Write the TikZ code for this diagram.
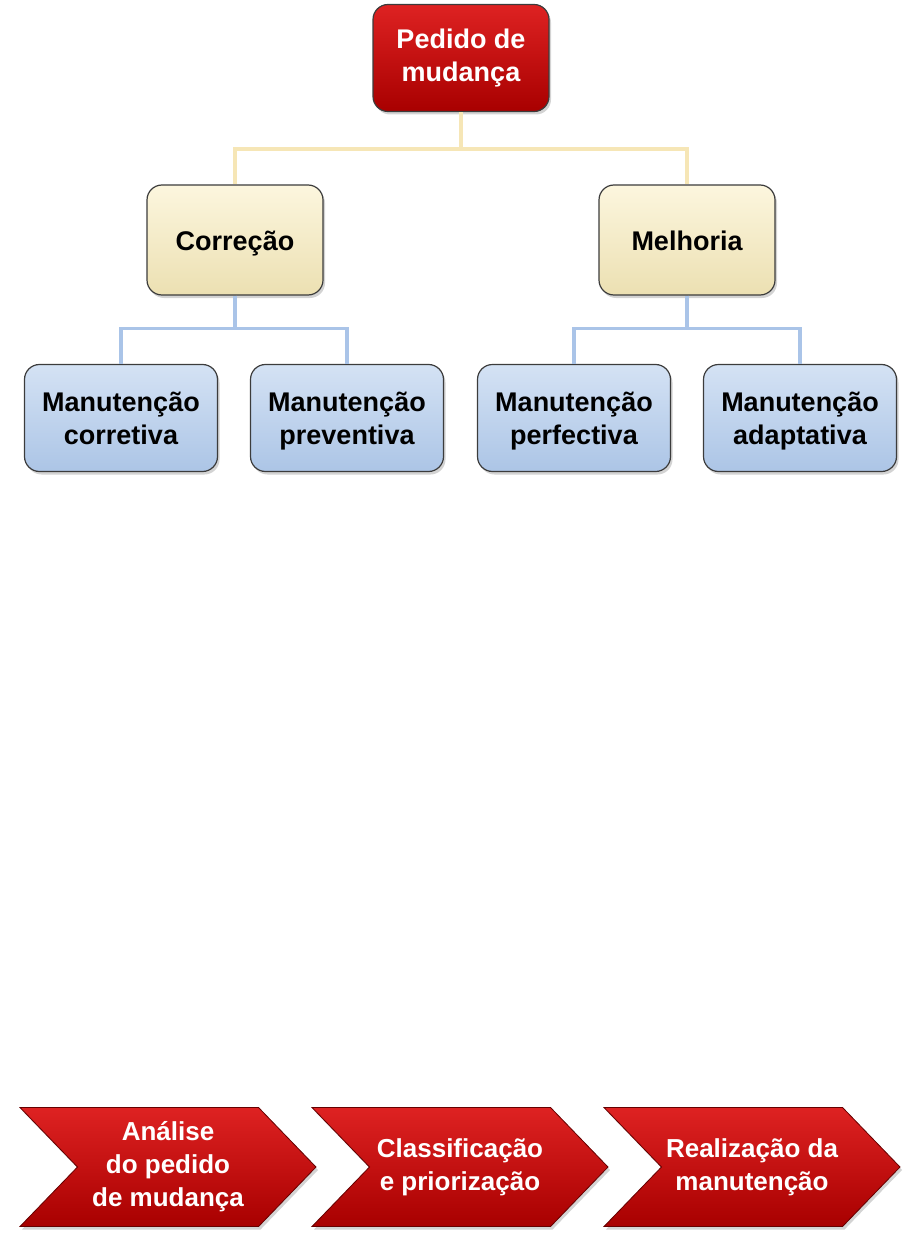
\documentclass[tikz,border=0pt]{standalone}
\usepackage{fontspec}
\setmainfont{Liberation Sans}
\usepackage{xcolor}
\usetikzlibrary{positioning,shapes.symbols,shadows}
\definecolor{MudRedTop}{RGB}{222,34,34}
\definecolor{MudRedBot}{RGB}{168,0,0}
\definecolor{MudBeigeTop}{RGB}{252,246,222}
\definecolor{MudBeigeBot}{RGB}{236,224,178}
\definecolor{MudBeigeLine}{RGB}{246,230,182}
\definecolor{MudBlueTop}{RGB}{212,226,244}
\definecolor{MudBlueBot}{RGB}{172,197,230}
\definecolor{MudBlueLine}{RGB}{170,196,232}
\definecolor{MudEdge}{RGB}{60,60,60}

\begin{document}
\begin{tikzpicture}[
    x=1pt, y=-1pt,
    box/.style={
        rectangle,
        rounded corners=15pt,
        draw=MudEdge,
        line width=1.2pt,
        minimum width=176pt,
        minimum height=107pt,
        align=center,
        font=\fontsize{27}{33}\selectfont\bfseries,
        drop shadow={shadow xshift=2pt,shadow yshift=-3pt,opacity=0.35}
    },
    redbox/.style={
        box,
        top color=MudRedTop,
        bottom color=MudRedBot,
        text=white
    },
    beigebox/.style={
        box,
        minimum height=110pt,
        text height=25pt,
        text depth=3pt,
        top color=MudBeigeTop,
        bottom color=MudBeigeBot
    },
    bluebox/.style={
        box,
        minimum width=193pt,
        text depth=0pt,
        top color=MudBlueTop,
        bottom color=MudBlueBot
    },
    stage/.style={
        signal,
        signal to=east,
        signal from=west,
        signal pointer angle=92,
        draw=MudRedBot!60!black,
        line width=0.8pt,
        top color=MudRedTop,
        bottom color=MudRedBot,
        text=white,
        minimum width=296pt,
        minimum height=119pt,
        inner sep=0pt,
        align=center,
        font=\fontsize{26}{33}\selectfont\bfseries,
        drop shadow={shadow xshift=2pt,shadow yshift=-3pt,opacity=0.35}
    },
    yline/.style={
        line width=3.5pt,
        draw=MudBeigeLine
    },
    bline/.style={
        line width=3.5pt,
        draw=MudBlueLine
    }
]

\useasboundingbox (0,0) rectangle (903,1241);

% hierarchy
\node[redbox] (pedido) at (461,58)
{Pedido de\\mudança};

\node[beigebox] (correcao) at (235,240)
{Correção};

\node[beigebox] (melhoria) at (687,240)
{Melhoria};

\node[bluebox] (corretiva) at (121,418)
{Manutenção\\corretiva};

\node[bluebox] (preventiva) at (347,418)
{Manutenção\\preventiva};

\node[bluebox] (perfectiva) at (574,418)
{Manutenção\\perfectiva};

\node[bluebox] (adaptativa) at (800,418)
{Manutenção\\adaptativa};

\draw[yline]
(pedido.south) -- ++(0,37) -| (correcao.north);

\draw[yline]
(pedido.south) -- ++(0,37) -| (melhoria.north);

\draw[bline]
(correcao.south) -- ++(0,33) -| (corretiva.north);

\draw[bline]
(correcao.south) -- ++(0,33) -| (preventiva.north);

\draw[bline]
(melhoria.south) -- ++(0,33) -| (perfectiva.north);

\draw[bline]
(melhoria.south) -- ++(0,33) -| (adaptativa.north);

% process
\node[stage] (analise) at (168,1167)
{Análise\\do pedido\\de mudança};

\node[stage] (classif) at (460,1167)
{Classificação\\e priorização};

\node[stage] (realiz) at (752,1167)
{Realização da\\manutenção};

\end{tikzpicture}
\end{document}
